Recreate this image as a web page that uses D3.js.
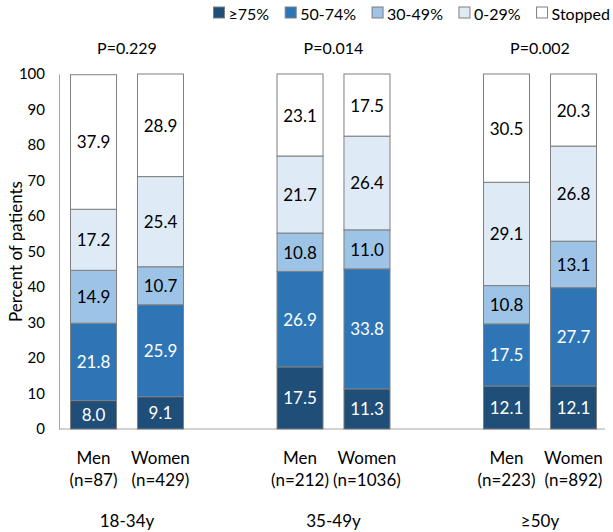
<!DOCTYPE html>
<html>
<head>
<meta charset="utf-8">
<script src="https://cdn.jsdelivr.net/npm/d3@7"></script>
<style>
html,body{margin:0;padding:0;background:#fff;}
svg text{font-family:Lato,"Open Sans",sans-serif;}
</style>
</head>
<body>
<svg id="chart" width="613" height="532"></svg>
<script>
const groups = ["18-34y", "35-49y", "≥50y"];
const pValues = ["P=0.229", "P=0.014", "P=0.002"];
const sexes = ["Men", "Women"];
const nLabels = [["(n=87)", "(n=429)"], ["(n=212)", "(n=1036)"], ["(n=223)", "(n=892)"]];
const seriesNames = ["≥75%", "50-74%", "30-49%", "0-29%", "Stopped"];
const seriesColors = ["#1f4e79", "#2e75b6", "#9dc3e6", "#deebf7", "#ffffff"];
const seriesTextColors = ["#ffffff", "#ffffff", "#000000", "#000000", "#000000"];
// values per bar: [≥75, 50-74, 30-49, 0-29, Stopped]
const men18 = [8.0, 21.8, 14.9, 17.2, 37.9];
const women18 = [9.1, 25.9, 10.7, 25.4, 28.9];
const men35 = [17.5, 26.9, 10.8, 21.7, 23.1];
const women35 = [11.3, 33.8, 11.0, 26.4, 17.5];
const men50 = [12.1, 17.5, 10.8, 29.1, 30.5];
const women50 = [12.1, 27.7, 13.1, 26.8, 20.3];
const yTicks = [0, 10, 20, 30, 40, 50, 60, 70, 80, 90, 100];

const barValues = [[men18, women18], [men35, women35], [men50, women50]];

const svg = d3.select("#chart");
const y = d3.scaleLinear().domain([0, 100]).range([429, 74]);
const xg = d3.scalePoint().domain(groups).range([127, 540]);
const xs = d3.scaleBand().domain(sexes).range([-67, 67]).paddingInner(0.313).paddingOuter(0.157);

// y axis
const yAxis = d3.axisLeft(y).tickValues(yTicks).tickSize(0).tickPadding(14);
const ya = svg.append("g").attr("transform", "translate(59,0)").call(yAxis);
ya.select(".domain").attr("stroke", "#a6a6a6");
ya.selectAll("text").attr("font-size", 15).attr("fill", "#000").style("font-family", "Lato, sans-serif");

// x axis baseline
svg.append("line").attr("x1", 59).attr("x2", 605).attr("y1", y(0)).attr("y2", y(0))
  .attr("stroke", "#a6a6a6").attr("stroke-width", 1);

svg.append("text").attr("transform", "translate(15," + ((y(0) + y(100)) / 2) + ") rotate(-90)")
  .attr("text-anchor", "middle").attr("dominant-baseline", "central")
  .attr("font-size", 17).attr("fill", "#000").text("Percent of patients");

// bars
groups.forEach((g, gi) => {
  sexes.forEach((s, si) => {
    const vals = barValues[gi][si];
    let cum = 0;
    const x0 = xg(g) + xs(s);
    const w = xs.bandwidth();
    const bar = svg.append("g");
    vals.forEach((v, k) => {
      const y0 = cum, y1 = cum + v;
      cum = y1;
      bar.append("rect").attr("x", x0).attr("y", y(y1)).attr("width", w).attr("height", y(y0) - y(y1))
        .attr("fill", seriesColors[k]).attr("stroke", "#7f7f7f").attr("stroke-width", 1);
      bar.append("text").attr("x", x0 + w / 2).attr("y", (y(y0) + y(y1)) / 2)
        .attr("text-anchor", "middle").attr("dominant-baseline", "central")
        .attr("font-size", 17).attr("fill", seriesTextColors[k]).text(v.toFixed(1));
    });
    svg.append("text").attr("x", x0 + w / 2).attr("y", 457).attr("text-anchor", "middle")
      .attr("dominant-baseline", "central").attr("font-size", 17).attr("fill", "#000").text(s);
    svg.append("text").attr("x", x0 + w / 2).attr("y", 479).attr("text-anchor", "middle")
      .attr("dominant-baseline", "central").attr("font-size", 17).attr("fill", "#000").text(nLabels[gi][si]);
  });
  svg.append("text").attr("x", xg(g)).attr("y", 520).attr("text-anchor", "middle")
    .attr("dominant-baseline", "central").attr("font-size", 17).attr("fill", "#000").text(g);
  svg.append("text").attr("x", xg(g)).attr("y", 47).attr("text-anchor", "middle")
    .attr("dominant-baseline", "central").attr("font-size", 16).attr("fill", "#000").text(pValues[gi]);
});

// legend (laid out from measured text widths, right part of the top strip)
const lg = svg.append("g");
const items = seriesNames.map((n, i) => {
  const g = lg.append("g");
  g.append("rect").attr("x", 0).attr("y", 7).attr("width", 11).attr("height", 11)
    .attr("fill", seriesColors[i]).attr("stroke", "#7f7f7f").attr("stroke-width", 1);
  const t = g.append("text").attr("x", 15).attr("y", 13).attr("dominant-baseline", "central")
    .attr("font-size", 16).attr("fill", "#000").text(n);
  return {g, w: 15 + t.node().getComputedTextLength()};
});
const gap = 16;
const total = d3.sum(items, d => d.w) + gap * (items.length - 1);
let lx = 610 - total;
items.forEach(it => { it.g.attr("transform", "translate(" + lx + ",0)"); lx += it.w + gap; });
</script>
</body>
</html>
